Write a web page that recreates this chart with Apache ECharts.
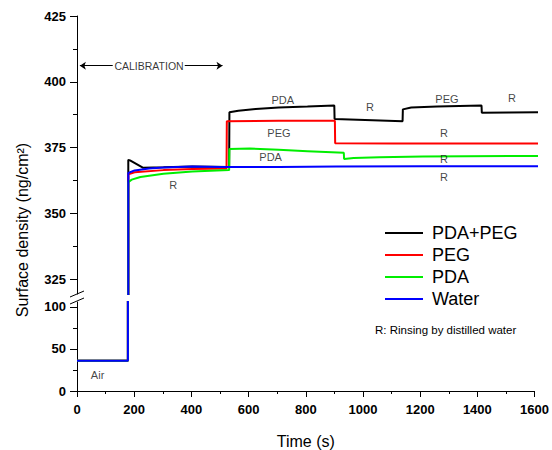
<!DOCTYPE html>
<html><head><meta charset="utf-8">
<script src="https://cdn.jsdelivr.net/npm/echarts@6/dist/echarts.min.js"></script>
<style>html,body{margin:0;padding:0;background:#fff}#c{width:552px;height:450px}</style>
</head><body><div id="c"></div>
<script>
// ---- data ----
const seriesNames = ['PDA+PEG', 'PEG', 'PDA', 'Water'];
const seriesColors = ['#000000', '#ff0000', '#00ee00', '#0000ff'];
const pdaPeg = [[0,36],[178,36],[178,370.3],[184,370.1],[230,367.3],[300,367.5],[400,367.8],[528,367.6],[529,388.4],[560,389],[620,389.6],[700,390.2],[800,390.6],[893,391],[894,385.8],[1000,385.5],[1130,385],[1131,389.5],[1160,390.2],[1250,390.6],[1404,391],[1405,388.2],[1500,388.3],[1600,388.4]];
const peg = [[0,36],[178,36],[178,364.8],[200,365.6],[300,366.4],[400,366.8],[519,367],[520,385],[700,385.2],[895,385.2],[896,376.6],[1100,376.5],[1600,376.5]];
const pda = [[0,36],[178,36],[178,361.8],[190,362.8],[220,363.8],[300,365],[400,365.9],[528,366.4],[529,374.4],[600,374.6],[700,374.1],[800,373.6],[926,373],[927,370.6],[960,371],[1050,371.3],[1200,371.6],[1600,371.8]];
const water = [[0,36],[178,36],[178,365.3],[200,366.3],[250,367],[300,367.4],[400,367.8],[500,367.6],[700,367.6],[900,367.8],[1200,367.9],[1600,367.9]];
const allSeries = [pdaPeg, peg, pda, water];

const yTicksUpper = [325, 350, 375, 400, 425];
const yMinorUpper = [337.5, 362.5, 387.5, 412.5];
const yTicksLower = [0, 50, 100];
const yMinorLower = [25, 75];

const notesUpper = [[714,393,'PDA'],[1017,390.5,'R'],[1284,393.3,'PEG'],[1510,393.9,'R'],[701,380.4,'PEG'],[1274,380.6,'R'],[672,371.3,'PDA'],[1274,370.6,'R'],[1274,363.7,'R'],[334,360.7,'R']];
const notesLower = [[72,19.2,'Air']];
const calibText = [[250,406.1,'CALIBRATION']];
const calibLeft = [[10,406.1],[124,406.1]];
const calibRight = [[374,406.1],[505,406.1]];

// ---- chart ----
const FF = 'Liberation Sans, Arial, Helvetica, sans-serif';
const chart = echarts.init(document.getElementById('c'), null, {renderer: 'svg'});
const axisCommon = {
  type: 'value', splitLine: {show: false},
  axisLine: {show: true, lineStyle: {color: '#000', width: 1}},
};
function yAx(grid, min, max, ticks, len, labels) {
  return Object.assign({}, axisCommon, {
    gridIndex: grid, min: min, max: max, position: 'left', offset: 0,
    axisLine: {show: labels, lineStyle: {color: '#000', width: 1}},
    axisTick: {show: true, inside: false, length: len, customValues: ticks, lineStyle: {color: '#000', width: 1}},
    axisLabel: {show: labels, customValues: ticks, margin: 11, color: '#000', fontWeight: 'bold', fontSize: 13, fontFamily: FF}
  });
}
const series = [];
for (let g = 0; g < 2; g++) {
  allSeries.forEach((d, i) => {
    series.push({
      name: seriesNames[i], type: 'line', xAxisIndex: g, yAxisIndex: g * 2,
      data: d, symbol: 'none', showSymbol: false, clip: true,
      lineStyle: {color: seriesColors[i], width: 2}, itemStyle: {color: seriesColors[i]},
      z: 2 + i
    });
  });
}
const noteLabel = {show: true, position: 'inside', color: '#111', fontSize: 11, fontFamily: FF,
  formatter: p => p.value[2]};
series.push({type: 'scatter', xAxisIndex: 0, yAxisIndex: 0, data: notesUpper, symbolSize: 0, label: noteLabel, silent: true, z: 10});
series.push({type: 'scatter', xAxisIndex: 1, yAxisIndex: 2, data: notesLower, symbolSize: 0, label: noteLabel, silent: true, z: 10});
series.push({type: 'scatter', xAxisIndex: 0, yAxisIndex: 0, data: calibText, symbolSize: 0, silent: true, z: 10,
  label: Object.assign({}, noteLabel, {fontSize: 10.5, color: '#000'}),
  markLine: {silent: true, symbolSize: 6, animation: false,
    lineStyle: {color: '#000', width: 1, type: 'solid'}, label: {show: false},
    data: [
      [{coord: calibLeft[0], symbol: 'arrow'}, {coord: calibLeft[1], symbol: 'none'}],
      [{coord: calibRight[0], symbol: 'none'}, {coord: calibRight[1], symbol: 'arrow'}]
    ]}
});

chart.setOption({
  animation: false,
  backgroundColor: '#fff',
  grid: [
    {left: 77, right: 14, top: 16, height: 278},
    {left: 77, right: 14, top: 302, height: 90}
  ],
  xAxis: [
    Object.assign({}, axisCommon, {gridIndex: 0, min: 0, max: 1600, show: false}),
    Object.assign({}, axisCommon, {gridIndex: 1, min: 0, max: 1600, interval: 200,
      axisTick: {show: true, length: 6, lineStyle: {color: '#000'}},
      minorTick: {show: true, splitNumber: 2, length: 3, lineStyle: {color: '#000'}},
      axisLabel: {margin: 12, color: '#000', fontWeight: 'bold', fontSize: 13, fontFamily: FF,
        formatter: v => String(v)},
      name: 'Time (s)', nameLocation: 'middle', nameGap: 42,
      nameTextStyle: {fontSize: 16, color: '#000', fontFamily: FF}})
  ],
  yAxis: [
    yAx(0, 319.3, 425, yTicksUpper, 7, true),
    yAx(0, 319.3, 425, yMinorUpper, 4, false),
    yAx(1, 0, 105.88, yTicksLower, 7, true),
    yAx(1, 0, 105.88, yMinorLower, 4, false)
  ],
  legend: {
    data: seriesNames, orient: 'vertical', left: 385, top: 224, padding: 0,
    icon: 'rect', itemWidth: 38, itemHeight: 2, itemGap: 4,
    textStyle: {fontSize: 18, color: '#000', fontFamily: FF, padding: [0, 0, 0, 4]},
    selectedMode: false
  },
  graphic: [
    {type: 'text', x: 22, y: 230, rotation: Math.PI / 2,
     style: {text: 'Surface density (ng/cm²)', fontSize: 16, fontFamily: FF, fill: '#000',
             textAlign: 'center', textVerticalAlign: 'middle', align: 'center', verticalAlign: 'middle'}},
    {type: 'text', left: 375, top: 324,
     style: {text: 'R: Rinsing by distilled water', fontSize: 11.5, fontFamily: FF, fill: '#000'}},
    {type: 'line', shape: {x1: 70, y1: 297, x2: 84, y2: 291}, style: {stroke: '#000', lineWidth: 1}},
    {type: 'line', shape: {x1: 70, y1: 304, x2: 84, y2: 298}, style: {stroke: '#000', lineWidth: 1}}
  ],
  series: series
});
</script>
</body></html>
